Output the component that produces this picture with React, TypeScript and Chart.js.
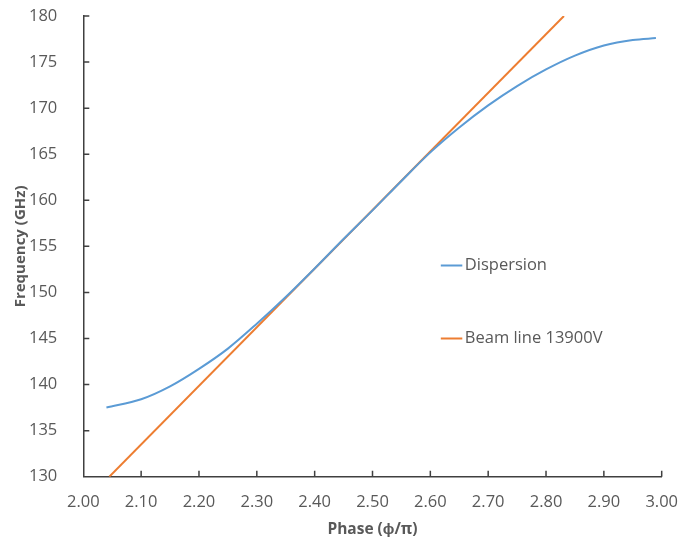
import React, { useEffect, useRef } from "react";
import { Chart, registerables } from "chart.js";

Chart.register(...registerables);

const dispersionX = [2.04, 2.1, 2.15, 2.2, 2.25, 2.3, 2.35, 2.4, 2.45, 2.5, 2.55, 2.6, 2.65, 2.7, 2.75, 2.8, 2.85, 2.9, 2.95, 2.99];
const dispersionY = [137.5, 138.4, 139.8, 141.7, 143.9, 146.6, 149.5, 152.6, 155.8, 158.9, 162.1, 165.2, 167.9, 170.3, 172.4, 174.2, 175.7, 176.8, 177.4, 177.6];
const beamX = [2.045, 2.831];
const beamY = [130, 180];
const seriesNames = ["Dispersion", "Beam line 13900V"];
const seriesColors = ["#5B9BD5", "#ED7D31"];

const FONT = "'Open Sans', 'Liberation Sans', sans-serif";
const TEXT = "#595959";
const AXIS = "#404040";

const innerTicksPlugin = {
  id: "innerTicks",
  afterDatasetsDraw(chart: any) {
    const { ctx, chartArea, scales } = chart;
    ctx.save();
    ctx.strokeStyle = AXIS;
    ctx.lineWidth = 1.5;
    ctx.beginPath();
    scales.x.ticks.forEach((t: any) => {
      const px = scales.x.getPixelForValue(t.value);
      if (Math.abs(px - chartArea.left) < 1) return;
      ctx.moveTo(px, chartArea.bottom);
      ctx.lineTo(px, chartArea.bottom - 6);
    });
    scales.y.ticks.forEach((t: any) => {
      const py = scales.y.getPixelForValue(t.value);
      if (Math.abs(py - chartArea.bottom) < 1) return;
      ctx.moveTo(chartArea.left, py);
      ctx.lineTo(chartArea.left + 6, py);
    });
    ctx.stroke();
    ctx.restore();
  },
};

const legendPlugin = {
  id: "innerLegend",
  afterDraw(chart: any) {
    const { ctx, chartArea } = chart;
    const x0 = chartArea.left + 357.5;
    const ys = [chartArea.top + 249.5, chartArea.top + 322.5];
    ctx.save();
    ctx.font = `16.5px ${FONT}`;
    ctx.textBaseline = "middle";
    ctx.textAlign = "left";
    seriesNames.forEach((name, i) => {
      ctx.strokeStyle = seriesColors[i];
      ctx.lineWidth = 2;
      ctx.beginPath();
      ctx.moveTo(x0, ys[i]);
      ctx.lineTo(x0 + 21.5, ys[i]);
      ctx.stroke();
      ctx.fillStyle = TEXT;
      ctx.fillText(name, x0 + 24, ys[i]);
    });
    ctx.restore();
  },
};

export default function App() {
  const ref = useRef<HTMLCanvasElement | null>(null);
  useEffect(() => {
    if (!ref.current) return;
    const chart = new Chart(ref.current, {
      type: "scatter",
      data: {
        datasets: [
          {
            label: seriesNames[0],
            data: dispersionX.map((x, i) => ({ x, y: dispersionY[i] })),
            showLine: true,
            borderColor: seriesColors[0],
            backgroundColor: seriesColors[0],
            borderWidth: 2,
            pointRadius: 0,
            cubicInterpolationMode: "monotone",
          },
          {
            label: seriesNames[1],
            data: beamX.map((x, i) => ({ x, y: beamY[i] })),
            showLine: true,
            borderColor: seriesColors[1],
            backgroundColor: seriesColors[1],
            borderWidth: 2,
            pointRadius: 0,
          },
        ],
      },
      options: {
        animation: false,
        responsive: false,
        maintainAspectRatio: false,
        layout: { padding: { top: 16, right: 18.3, left: 12, bottom: 0 } },
        plugins: {
          legend: { display: false },
          tooltip: { enabled: false },
        },
        scales: {
          x: {
            type: "linear",
            min: 2,
            max: 3,
            afterFit: (s: any) => {
              s.height = 63.3;
              s.paddingLeft = 0;
              s.paddingRight = 0;
            },
            ticks: {
              stepSize: 0.1,
              callback: (v: any) => Number(v).toFixed(2),
              color: TEXT,
              font: { family: FONT, size: 16.5 },
              padding: 8,
              maxRotation: 0,
            },
            grid: { display: false },
            border: { display: true, color: AXIS, width: 1.5 },
            title: {
              display: true,
              text: "Phase (ϕ/π)",
              color: TEXT,
              font: { family: FONT, size: 15.5, weight: "bold" },
              padding: { top: 4, bottom: 1 },
            },
          },
          y: {
            min: 130,
            max: 180,
            afterFit: (s: any) => {
              s.width = 71.3;
              s.paddingTop = 0;
              s.paddingBottom = 0;
            },
            ticks: {
              stepSize: 5,
              color: TEXT,
              font: { family: FONT, size: 16.5 },
              padding: 18,
            },
            grid: { display: false },
            border: { display: true, color: AXIS, width: 1.5 },
            title: {
              display: true,
              text: "Frequency (GHz)",
              color: TEXT,
              font: { family: FONT, size: 15, weight: "bold" },
              padding: { top: 0, bottom: 2 },
            },
          },
        },
      },
      plugins: [innerTicksPlugin, legendPlugin],
    } as any);
    return () => chart.destroy();
  }, []);
  return (
    <div style={{ position: "fixed", left: 0, top: 0, width: 680, height: 540, background: "#fff" }}>
      <canvas ref={ref} width={680} height={540} />
    </div>
  );
}
